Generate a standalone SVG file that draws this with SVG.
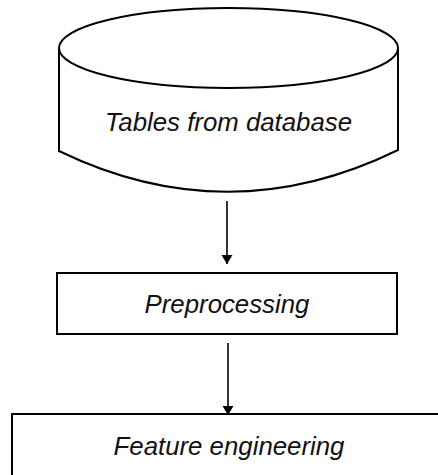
<svg xmlns="http://www.w3.org/2000/svg" width="438" height="475" viewBox="0 0 438 475">
<defs>
<style>
.shape{fill:#fff;stroke:#000;stroke-width:2}
.lbl{font-family:"Liberation Sans",Arial,sans-serif;font-style:italic;font-size:25.8px;fill:#111;text-anchor:middle}
.conn{stroke:#000;stroke-width:1.6;fill:none}
</style>
<marker id="ah" markerWidth="10" markerHeight="12" refX="9" refY="5.5" orient="auto" markerUnits="userSpaceOnUse">
<path d="M0,0 L9,5.5 L0,11 Z" fill="#000"/>
</marker>
</defs>
<rect width="438" height="475" fill="#fff"/>
<g id="node-tables">
<path class="shape" d="M59,48 L59,151 Q228.5,233 398,150 L398,48"/>
<ellipse class="shape" cx="228.5" cy="48" rx="169.5" ry="40"/>
<text class="lbl" x="228.5" y="131">Tables from database</text>
</g>
<g id="node-preprocessing">
<rect class="shape" x="57" y="273" width="340" height="61"/>
<text class="lbl" x="227" y="313">Preprocessing</text>
</g>
<g id="node-feature">
<rect class="shape" x="12" y="414" width="440" height="80"/>
<text class="lbl" x="229" y="455">Feature engineering</text>
</g>
<g id="connectors">
<line class="conn" x1="227" y1="201" x2="227" y2="264" marker-end="url(#ah)"/>
<line class="conn" x1="228" y1="343" x2="228" y2="415" marker-end="url(#ah)"/>
</g>
</svg>
